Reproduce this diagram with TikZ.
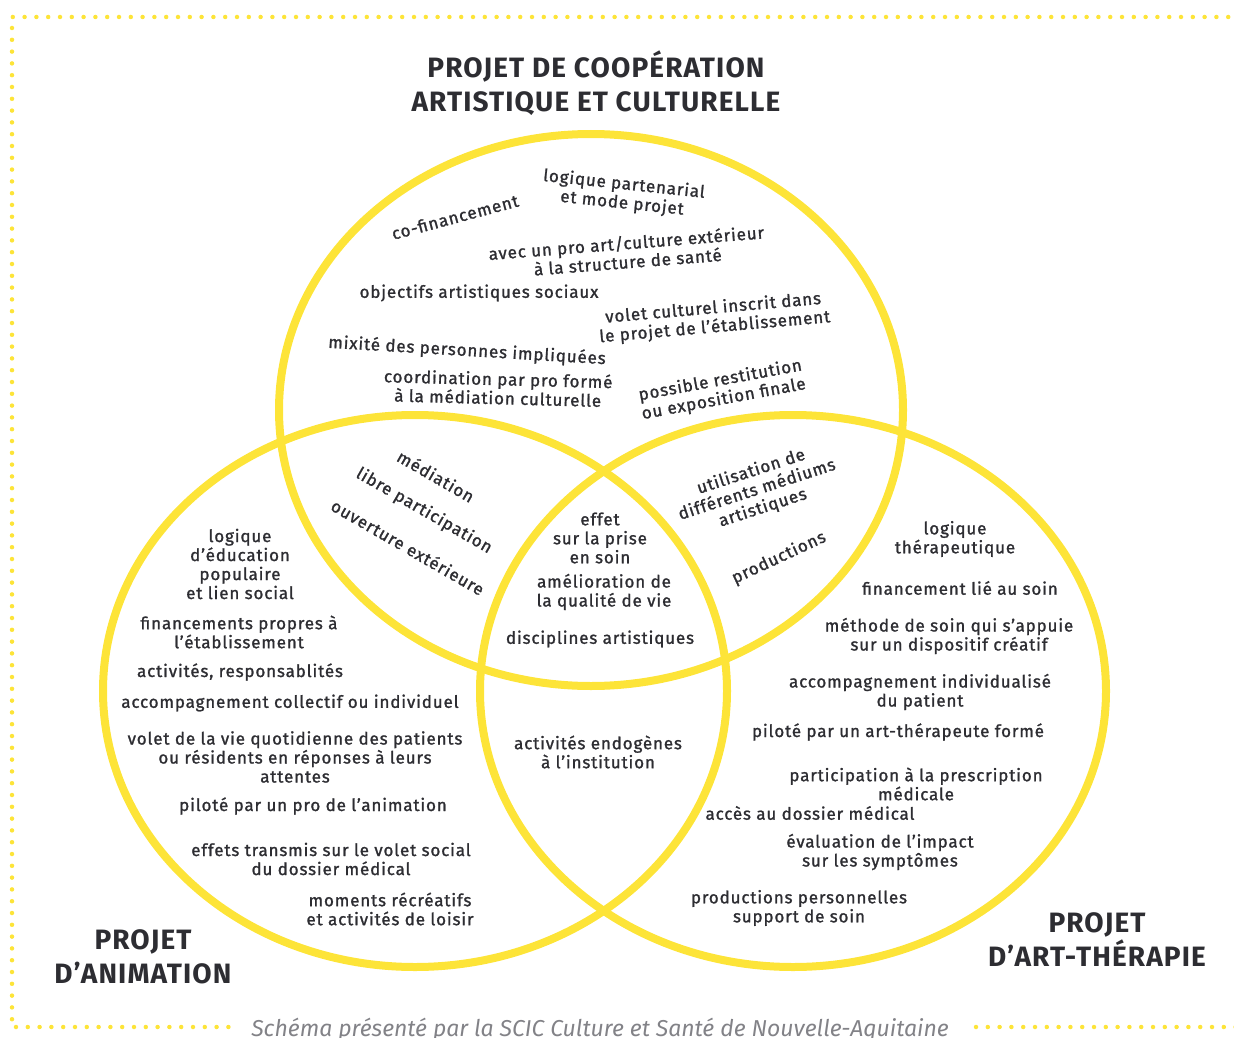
\documentclass[tikz,border=0pt]{standalone}
\usepackage{fontspec}
\setmainfont{Fira Sans}
\newfontfamily\itemfont{Fira Sans}[LetterSpace=5, FakeBold=1.3]
\newfontfamily\headfont{Fira Sans}[LetterSpace=4]
\definecolor{venn}{RGB}{253,228,56}
\definecolor{ink}{RGB}{45,45,50}
\definecolor{note}{RGB}{130,130,135}
\tikzset{
	ring/.style={draw=venn, line width=8pt},
	dotline/.style={draw=venn, line width=4.5pt, line cap=round, dash pattern=on 0pt off 11.8pt},
	item/.style={align=center, text=ink, inner sep=0pt, font=\itemfont\fontsize{17}{19}\selectfont},
	heading/.style={align=center, text=ink, inner sep=0pt, font=\headfont\bfseries\fontsize{28}{34}\selectfont},
	credit/.style={text=note, inner sep=0pt, anchor=base, font=\itshape\fontsize{23}{26}\selectfont}
}

\begin{document}
\begin{tikzpicture}[x=1pt, y=-1pt]
\useasboundingbox (0,0) rectangle (1234,1038);

% dotted frame
\coordinate (frameTL) at (12,17);
\coordinate (frameTR) at (1240,17);
\coordinate (frameBL) at (12,1027);
\coordinate (frameBM) at (238,1027);
\coordinate (frameBN) at (976,1027);
\coordinate (frameBR) at (1240,1027);
\draw [dotline] (frameTR) -- (frameTL) -- (frameBL) -- (frameBM);
\draw [dotline] (frameBN) -- (frameBR);

% the three sets
\draw [ring] (591,410) ellipse [x radius=312pt, y radius=276pt];
\draw [ring] (415,691) ellipse [x radius=312pt, y radius=276pt];
\draw [ring] (793,691) ellipse [x radius=313pt, y radius=276pt];

% titles
\node[heading] (titlecoop) at (596,83)
	{PROJET DE COOPÉRATION\\ARTISTIQUE ET CULTURELLE};
\node[heading] (titleanim) at (143,957) {PROJET\\D’ANIMATION};
\node[heading] (titleart) at (1097,940) {PROJET\\D’ART-THÉRAPIE};

% cooperation only
\node[item, rotate=15] (cofin) at (455,217) {co-financement};
\node[item, rotate=-6] (partenarial) at (623,194) {logique partenarial\\et mode projet};
\node[item, rotate=4.5] (avecpro) at (627,252)
	{avec un pro art/culture extérieur\\à la structure de santé};
\node[item] (objectifs) at (479,293) {objectifs artistiques sociaux};
\node[item, rotate=5] (voletcult) at (714,318)
	{volet culturel inscrit dans\\le projet de l’établissement};
\node[item, rotate=-3.4] (mixite) at (467,351) {mixité des personnes impliquées};
\node[item, rotate=-1.5] (coordination) at (498,388)
	{coordination par pro formé\\à la médiation culturelle};
\node[item, rotate=10.5] (restitution) at (722,390)
	{possible restitution\\ou exposition finale};

% cooperation and animation
\node[item, rotate=-30] (mediation) at (436,476) {médiation};
\node[item, rotate=-30] (libre) at (424,511) {libre participation};
\node[item, rotate=-30] (ouverture) at (408,547) {ouverture extérieure};

% cooperation and art-therapy
\node[item, rotate=18] (mediums) at (757,490)
	{utilisation de\\différents médiums\\artistiques};
\node[item, rotate=25] (productions) at (779,558) {productions};

% all three
\node[item] (effet) at (600,538) {effet\\sur la prise\\en soin};
\node[item] (qualite) at (604,592) {amélioration de\\la qualité de vie};
\node[item] (disciplines) at (600,639) {disciplines artistiques};

% animation and art-therapy
\node[item] (endogenes) at (598,752) {activités endogènes\\à l’institution};

% animation only
\node[item] (educpop) at (240,564)
	{logique\\d’éducation\\populaire\\et lien social};
\node[item] (fipropres) at (239,632) {financements propres à\\l’établissement};
\node[item] (responsa) at (240,672) {activités, responsablités};
\node[item] (collectif) at (290,703) {accompagnement collectif ou individuel};
\node[item] (quotidien) at (295,757)
	{volet de la vie quotidienne des patients\\ou résidents en réponses à leurs\\attentes};
\node[item] (piloteanim) at (313,806) {piloté par un pro de l’animation};
\node[item] (social) at (331,859)
	{effets transmis sur le volet social\\du dossier médical};
\node[item] (loisir) at (390,909) {moments récréatifs\\et activités de loisir};

% art-therapy only
\node[item] (therap) at (955,539) {logique\\thérapeutique};
\node[item] (finsoin) at (960,588) {financement lié au soin};
\node[item] (methode) at (949,636)
	{méthode de soin qui s’appuie\\sur un dispositif créatif};
\node[item] (individ) at (920,692) {accompagnement individualisé\\du patient};
\node[item] (piloteart) at (898,732) {piloté par un art-thérapeute formé};
\node[item] (prescription) at (916,784)
	{participation à la prescription\\médicale};
\node[item] (dossier) at (810,813) {accès au dossier médical};
\node[item] (impact) at (880,852) {évaluation de l’impact\\sur les symptômes};
\node[item] (perso) at (799,908) {productions personnelles\\support de soin};

% source
\node[credit] (source) at (600,1036)
	{Schéma présenté par la SCIC Culture et Santé de Nouvelle-Aquitaine};

\end{tikzpicture}
\end{document}
